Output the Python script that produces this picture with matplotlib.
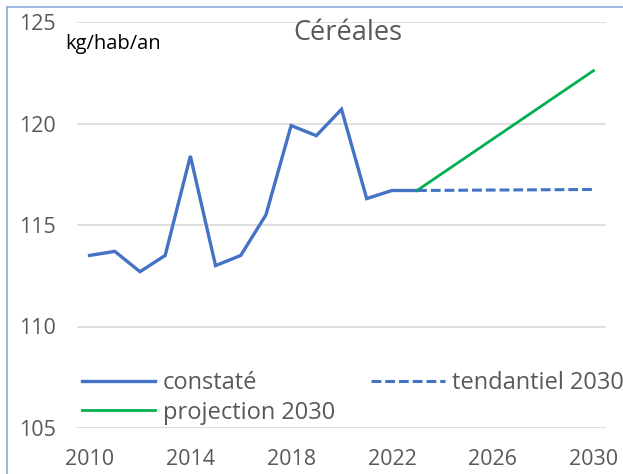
import matplotlib.pyplot as plt
from matplotlib.lines import Line2D

plt.rcParams['font.family'] = ['Open Sans', 'DejaVu Sans']

# données
annees = [2010, 2011, 2012, 2013, 2014, 2015, 2016, 2017, 2018, 2019, 2020, 2021, 2022, 2023]
constate = [113.5, 113.7, 112.7, 113.5, 118.4, 113.0, 113.5, 115.5, 119.9, 119.4, 120.7, 116.3, 116.7, 116.7]
annees_proj = [2023, 2030]
projection = [116.7, 122.6]
tendantiel = [116.7, 116.75]
xticks = [2010, 2014, 2018, 2022, 2026, 2030]
yticks = [105, 110, 115, 120, 125]

bleu = '#4472C4'
vert = '#00B050'
gris = '#595959'

fig = plt.figure(figsize=(6.23, 4.74), dpi=100)
W, H = 623, 474
ax = fig.add_axes([77 / W, 1 - 428 / H, (606 - 77) / W, (428 - 22) / H])

ax.plot(annees, constate, color=bleu, lw=2.4, label='constaté', solid_joinstyle='miter')
ax.plot(annees_proj, projection, color=vert, lw=2.0, label='projection 2030')
ax.plot(annees_proj, tendantiel, color=bleu, lw=2.2, dashes=(3.2, 1.3), label='tendantiel 2030')

ax.set_xlim(2009.5, 2030.5)
ax.set_ylim(105, 125)
ax.set_xticks(xticks)
ax.set_yticks(yticks)
ax.grid(axis='y', color='#D9D9D9', lw=1.2)
ax.set_axisbelow(True)
for s in ax.spines.values():
    s.set_visible(False)
ax.tick_params(length=0, labelsize=15.5, labelcolor=gris)
ax.tick_params(axis='x', pad=15)
ax.tick_params(axis='y', pad=15)

leg = ax.legend(loc='lower left', bbox_to_anchor=(0.01, 0.008), ncol=2, frameon=False,
                fontsize=17, handlelength=3.1, handletextpad=0.3, columnspacing=1.55,
                labelspacing=0.25, borderpad=0, borderaxespad=0)
for t in leg.get_texts():
    t.set_color(gris)

fig.text(348 / W, 1 - 33 / H, 'Céréales', ha='center', va='center', fontsize=19.5, color=gris)
fig.text(65 / W, 1 - 44 / H, 'kg/hab/an', ha='left', va='center', fontsize=14.5, color='black')

# cadre bleu clair (haut et gauche)
fig.add_artist(Line2D([7 / W, 1], [1 - 7 / H, 1 - 7 / H], transform=fig.transFigure, color='#8FAADC', lw=1.2))
fig.add_artist(Line2D([7 / W, 7 / W], [0, 1 - 7 / H], transform=fig.transFigure, color='#8FAADC', lw=1.2))

fig.savefig('out.png', dpi=100)
